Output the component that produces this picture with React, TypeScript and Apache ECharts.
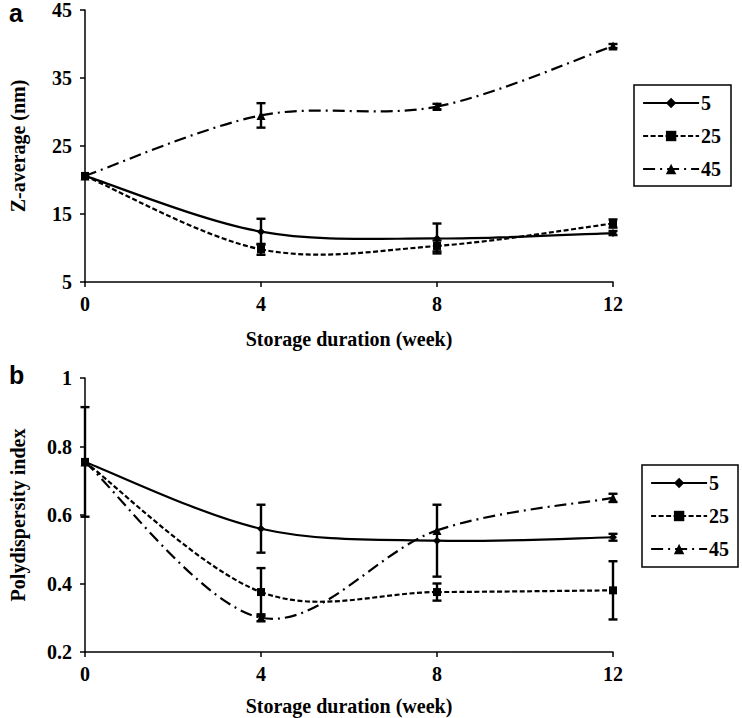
import React, { useEffect, useRef } from "react";
import * as echarts from "echarts";

const weeks = [0, 4, 8, 12];
const seriesNames = ["5", "25", "45"];

// Panel a: Z-average (nm)
const zAvg5 = [20.6, 12.4, 11.4, 12.2];
const zAvg25 = [20.6, 9.8, 10.3, 13.6];
const zAvg45 = [20.6, 29.5, 30.8, 39.7];
const zErr5 = [0, 1.9, 2.2, 0.3];
const zErr25 = [0, 0.8, 0.8, 0.6];
const zErr45 = [0, 1.8, 0.4, 0.3];

// Panel b: Polydispersity index
const pdi5 = [0.755, 0.56, 0.525, 0.535];
const pdi25 = [0.755, 0.375, 0.375, 0.38];
const pdi45 = [0.755, 0.3, 0.555, 0.65];
const pdiErr5 = [0.16, 0.07, 0.105, 0.01];
const pdiErr25 = [0, 0.07, 0.025, 0.085];
const pdiErr45 = [0, 0.01, 0, 0.012];

const zTicks = { min: 5, max: 45, interval: 10 };
const pdiTicks = { min: 0.2, max: 1, interval: 0.2 };

const FONT = "'Liberation Serif', 'DejaVu Serif', serif";
const symbols = ["diamond", "rect", "triangle"];
const symbolSizes = [8, 8, 9];
const dashes: any[] = ["solid", [5, 2.5], [12, 5, 2, 5]];
const LW = 2.2;

// markers (line series with hidden line; the smoothed curve is drawn by a custom series)
function markerSeries(name: string, idx: number, vals: number[], axis: number) {
  return {
    name,
    type: "line",
    xAxisIndex: axis,
    yAxisIndex: axis,
    data: weeks.map((w, i) => [w, vals[i]]),
    symbol: symbols[idx],
    symbolSize: symbolSizes[idx],
    itemStyle: { color: "#000" },
    lineStyle: { color: "#000", width: LW, type: dashes[idx], opacity: 0 },
    z: 5,
  };
}

// Excel-like smoothed curve through the data points, positioned by api.coord
function curveSeries(id: string, idx: number, vals: number[], axis: number) {
  return {
    name: id,
    type: "custom",
    xAxisIndex: axis,
    yAxisIndex: axis,
    encode: { x: 0, y: 1 },
    data: [[weeks[0], vals[0]]],
    z: 3,
    renderItem: (params: any, api: any) => {
      const pts = weeks.map((w, i) => api.coord([w, vals[i]]));
      const n = pts.length;
      const children: any[] = [];
      for (let i = 0; i < n - 1; i++) {
        const p0 = pts[Math.max(i - 1, 0)];
        const p1 = pts[i];
        const p2 = pts[i + 1];
        const p3 = pts[Math.min(i + 2, n - 1)];
        children.push({
          type: "bezierCurve",
          shape: {
            x1: p1[0],
            y1: p1[1],
            cpx1: p1[0] + (p2[0] - p0[0]) / 6,
            cpy1: p1[1] + (p2[1] - p0[1]) / 6,
            cpx2: p2[0] - (p3[0] - p1[0]) / 6,
            cpy2: p2[1] - (p3[1] - p1[1]) / 6,
            x2: p2[0],
            y2: p2[1],
          },
          style: {
            stroke: "#000",
            fill: "none",
            lineWidth: LW,
            lineDash: dashes[idx] === "solid" ? null : dashes[idx],
          },
        });
      }
      return { type: "group", children };
    },
  };
}

function errSeries(id: string, vals: number[], errs: number[], axis: number) {
  const data = weeks
    .map((w, i) => [w, vals[i] - errs[i], vals[i] + errs[i]])
    .filter((d, i) => errs[i] > 0);
  return {
    name: id,
    type: "custom",
    xAxisIndex: axis,
    yAxisIndex: axis,
    encode: { x: 0, y: [1, 2] },
    data,
    z: 4,
    renderItem: (params: any, api: any) => {
      const x = api.value(0);
      const lo = api.coord([x, api.value(1)]);
      const hi = api.coord([x, api.value(2)]);
      const cap = 4.5;
      const st = { stroke: "#000", lineWidth: 2.4 };
      return {
        type: "group",
        children: [
          { type: "line", shape: { x1: lo[0], y1: lo[1], x2: hi[0], y2: hi[1] }, style: st },
          { type: "line", shape: { x1: lo[0] - cap, y1: lo[1], x2: lo[0] + cap, y2: lo[1] }, style: st },
          { type: "line", shape: { x1: hi[0] - cap, y1: hi[1], x2: hi[0] + cap, y2: hi[1] }, style: st },
        ],
      };
    },
  };
}

const axisLabel = { color: "#000", fontFamily: FONT, fontWeight: "bold", fontSize: 20 };
const axisName = { color: "#000", fontFamily: FONT, fontWeight: "bold", fontSize: 20 };
const axisLine = { show: true, lineStyle: { color: "#000", width: 1.5 } };
const axisTick = { show: true, length: 5, lineStyle: { color: "#000", width: 1.5 } };

function legend(top: number, left: number) {
  return {
    data: seriesNames.map((name, i) => ({
      name,
      lineStyle: { opacity: 1, color: "#000", width: LW, type: dashes[i] },
    })),
    orient: "vertical",
    left,
    top,
    itemWidth: 56,
    itemHeight: 13,
    itemGap: 13,
    padding: [8, 8, 8, 8],
    selectedMode: false,
    textStyle: { color: "#000", fontFamily: FONT, fontWeight: "bold", fontSize: 20, padding: [0, 0, 0, -3] },
  };
}

function legendBox(x: number, y: number, w: number, h: number) {
  return {
    type: "rect",
    shape: { x, y, width: w, height: h },
    style: { fill: "none", stroke: "#000", lineWidth: 1.5 },
    z: 10,
  };
}

export default function App() {
  const ref = useRef<HTMLDivElement>(null);
  useEffect(() => {
    document.body.style.margin = "0";
    const chart = echarts.init(ref.current!, null, { renderer: "svg" });
    const xAxisCommon = {
      type: "value",
      min: 0,
      max: 12,
      interval: 4,
      splitLine: { show: false },
      axisLine,
      axisTick,
      axisLabel: { ...axisLabel, margin: 12 },
      name: "Storage duration (week)",
      nameLocation: "middle",
      nameTextStyle: axisName,
    };
    const yAxisCommon = {
      type: "value",
      splitLine: { show: false },
      axisLine,
      axisTick,
      axisLabel: { ...axisLabel, margin: 13 },
      nameLocation: "middle",
      nameTextStyle: axisName,
    };
    chart.setOption({
      animation: false,
      backgroundColor: "#fff",
      grid: [
        { left: 80, width: 533, top: 8, height: 274 },
        { left: 79, width: 534, top: 378, height: 274 },
      ],
      xAxis: [
        { ...xAxisCommon, gridIndex: 0, nameGap: 47 },
        { ...xAxisCommon, gridIndex: 1, nameGap: 44 },
      ],
      yAxis: [
        { ...yAxisCommon, gridIndex: 0, ...zTicks, name: "Z-average (nm)", nameGap: 57 },
        { ...yAxisCommon, gridIndex: 1, ...pdiTicks, name: "Polydispersity index", nameGap: 57 },
      ],
      legend: [legend(85, 634), legend(465, 642)],
      graphic: [
        legendBox(634, 85, 97, 101),
        legendBox(642, 465, 96, 102),
        { type: "text", left: 9, top: 0, style: { text: "a", font: "bold 25px 'Liberation Sans'", fill: "#000" } },
        { type: "text", left: 9, top: 362, style: { text: "b", font: "bold 25px 'Liberation Sans'", fill: "#000" } },
      ],
      series: [
        curveSeries("curveZ5", 0, zAvg5, 0),
        curveSeries("curveZ25", 1, zAvg25, 0),
        curveSeries("curveZ45", 2, zAvg45, 0),
        curveSeries("curveP5", 0, pdi5, 1),
        curveSeries("curveP25", 1, pdi25, 1),
        curveSeries("curveP45", 2, pdi45, 1),
        markerSeries("5", 0, zAvg5, 0),
        markerSeries("25", 1, zAvg25, 0),
        markerSeries("45", 2, zAvg45, 0),
        markerSeries("5", 0, pdi5, 1),
        markerSeries("25", 1, pdi25, 1),
        markerSeries("45", 2, pdi45, 1),
        errSeries("errZ5", zAvg5, zErr5, 0),
        errSeries("errZ25", zAvg25, zErr25, 0),
        errSeries("errZ45", zAvg45, zErr45, 0),
        errSeries("errP5", pdi5, pdiErr5, 1),
        errSeries("errP25", pdi25, pdiErr25, 1),
        errSeries("errP45", pdi45, pdiErr45, 1),
      ],
    });
    return () => chart.dispose();
  }, []);
  return <div ref={ref} style={{ width: 742, height: 718 }} />;
}
